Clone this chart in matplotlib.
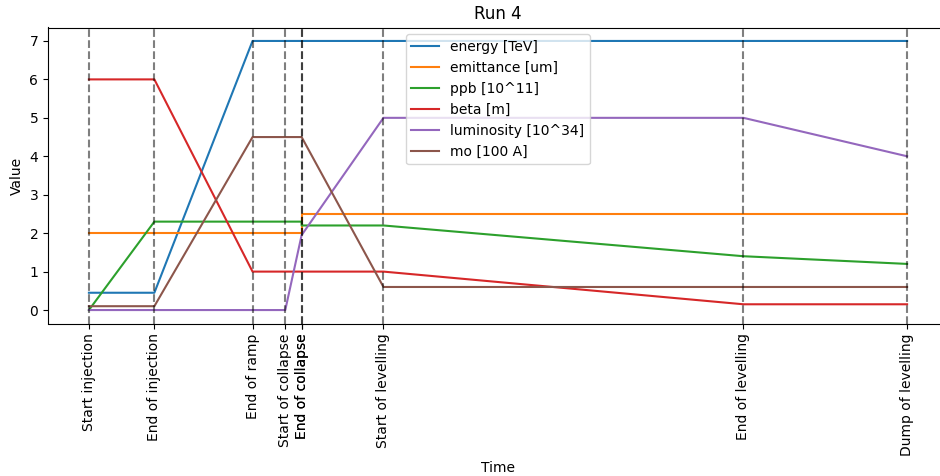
import matplotlib
matplotlib.use("Agg")
import matplotlib.pyplot as plt

# time of each event (minutes)
times = [0, 20, 50, 60, 65, 65, 90, 200, 250]
events = ["Start injection", "End of injection", "End of ramp", "Start of collapse",
          "End of collapse", "End of collapse", "Start of levelling", "End of levelling",
          "Dump of levelling"]

energy = [0.45, 0.45, 7, 7, 7, 7, 7, 7, 7]
emittance = [2, 2, 2, 2, 2, 2.5, 2.5, 2.5, 2.5]
ppb = [0, 2.3, 2.3, 2.3, 2.3, 2.2, 2.2, 1.4, 1.2]
beta = [6, 6, 1, 1, 1, 1, 1, 0.15, 0.15]
luminosity = [0, 0, 0, 0, 1.95, 1.95, 5, 5, 4]
mo = [0.1, 0.1, 4.5, 4.5, 4.5, 4.5, 0.6, 0.6, 0.6]

fig = plt.figure(figsize=(9.4, 4.76), dpi=100)
# the original figure is cut off on the right, so the axes run past the edge
ax = fig.add_axes([48 / 940, 1 - 323.5 / 476, 900 / 940, 296 / 476])

ax.plot(times, energy, label="energy [TeV]")
ax.plot(times, emittance, label="emittance [um]")
ax.plot(times, ppb, label="ppb [10^11]")
ax.plot(times, beta, label="beta [m]")
ax.plot(times, luminosity, label="luminosity [10^34]")
ax.plot(times, mo, label="mo [100 A]")

for t in times:
    ax.axvline(t, color="k", linestyle="--", alpha=0.5)

ax.set_xticks(times)
ax.set_xticklabels(events, rotation=90)
ax.set_xlabel("Time")
ax.set_ylabel("Value")
ax.set_title("Run 4")
ax.legend(loc="upper center")

fig.savefig("out.png")
